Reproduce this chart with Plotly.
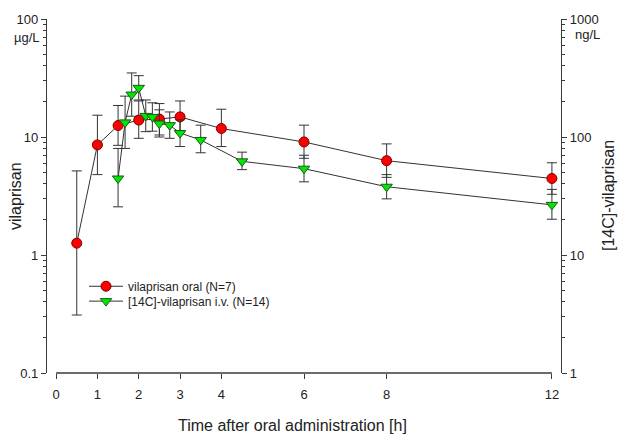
import plotly.graph_objects as go

# Oral vilaprisan (µg/L): time, geometric mean, lower and upper error bounds
oral_t = [0.5, 1, 1.5, 2, 2.5, 3, 4, 6, 8, 12]
oral_v = [1.26, 8.57, 12.5, 13.9, 14.2, 14.8, 11.8, 9.08, 6.3, 4.45]
oral_lo = [0.31, 4.8, 8.5, 9.75, 10.4, 10.9, 8.3, 6.6, 4.55, 3.27]
oral_hi = [5.16, 15.3, 18.5, 20.2, 19.2, 20.2, 17.2, 12.6, 8.74, 6.05]

# [14C]-vilaprisan i.v.
iv_t = [1.5, 1.67, 1.83, 2, 2.17, 2.33, 2.5, 2.75, 3, 3.5, 4.5, 6, 8, 12]
iv_v = [4.45, 13.3, 22.9, 26.1, 15.1, 14.8, 13.0, 12.6, 10.8, 9.44, 6.22, 5.39, 3.79, 2.66]
iv_lo = [2.56, 8.0, 15.0, 20.6, 11.1, 11.2, 10.0, 9.75, 8.3, 7.35, 5.29, 4.17, 2.99, 2.01]
iv_hi = [8.0, 22.2, 34.9, 33.1, 20.6, 19.5, 17.0, 16.3, 14.0, 12.6, 7.44, 7.0, 4.8, 3.6]

x_ticks = [0, 1, 2, 3, 4, 6, 8, 12]
y_ticks = [0.1, 1, 10, 100]
y_ticktext = ["0.1", "1", "10", "100"]
y2_ticks = [1, 10, 100, 1000]
y2_ticktext = ["1", "10", "100", "1000"]

FONT = "Liberation Sans, Arial, sans-serif"
AX = "#3a3a3a"


def minor_vals(lo_exp, hi_exp):
    out = []
    for e in range(lo_exp, hi_exp):
        for m in range(2, 10):
            out.append(round(m * 10 ** e, 6))
    return out


fig = go.Figure()

fig.add_trace(go.Scatter(
    x=oral_t, y=oral_v, mode="lines+markers", name="vilaprisan oral (N=7)",
    legend="legend",
    line=dict(color="#333333", width=1),
    marker=dict(symbol="circle", size=10, color="#ff0000", line=dict(color="#7a0000", width=1)),
    error_y=dict(type="data", symmetric=False,
                 array=[h - v for h, v in zip(oral_hi, oral_v)],
                 arrayminus=[v - l for v, l in zip(oral_v, oral_lo)],
                 color="#333333", thickness=1, width=5),
))

fig.add_trace(go.Scatter(
    x=iv_t, y=iv_v, mode="lines+markers", name="[14C]-vilaprisan i.v. (N=14)",
    legend="legend2",
    line=dict(color="#333333", width=1),
    marker=dict(symbol="triangle-down", size=10, color="#00e600", line=dict(color="#1a5a1a", width=1)),
    error_y=dict(type="data", symmetric=False,
                 array=[h - v for h, v in zip(iv_hi, iv_v)],
                 arrayminus=[v - l for v, l in zip(iv_v, iv_lo)],
                 color="#333333", thickness=1, width=5),
))

# empty trace so that the right-hand axis is drawn
fig.add_trace(go.Scatter(x=[None], y=[None], yaxis="y2", showlegend=False, hoverinfo="skip"))

leg_common = dict(x=0.072, xanchor="left", yanchor="top", bgcolor="rgba(0,0,0,0)",
                  font=dict(size=12, color="#222222"), itemwidth=34)

fig.update_layout(
    width=620, height=435,
    margin=dict(l=47, r=59, t=15, b=62),
    paper_bgcolor="white", plot_bgcolor="white",
    font=dict(family=FONT, size=13, color="#222222"),
    showlegend=True,
    legend=dict(y=0.286, **leg_common),
    legend2=dict(y=0.244, **leg_common),
    xaxis=dict(range=[-0.22, 12.22], tickvals=x_ticks, ticktext=[str(v) for v in x_ticks],
               showline=False, showgrid=False, zeroline=False,
               ticks="outside", ticklen=5, tickwidth=1, tickcolor=AX,
               ticklabelstandoff=4, tickfont=dict(size=13)),
    yaxis=dict(type="log", range=[-1, 2], tickvals=y_ticks, ticktext=y_ticktext,
               showline=True, linecolor=AX, linewidth=1.3, mirror=False,
               showgrid=False, zeroline=False,
               ticks="outside", ticklen=5, tickwidth=1, tickcolor=AX,
               minor=dict(tickvals=minor_vals(-1, 2), ticks="outside", ticklen=3,
                          tickcolor=AX, showgrid=False),
               tickfont=dict(size=13)),
    yaxis2=dict(type="log", range=[0, 3], overlaying="y", side="right",
                tickvals=y2_ticks, ticktext=y2_ticktext,
                showline=True, linecolor=AX, linewidth=1.3,
                showgrid=False, zeroline=False,
                ticks="outside", ticklen=5, tickwidth=1, tickcolor=AX,
                minor=dict(tickvals=minor_vals(0, 3), ticks="outside", ticklen=3,
                           tickcolor=AX, showgrid=False),
                tickfont=dict(size=13)),
)

# x-axis baseline (offset from the y axes, spans 0..12 only)
fig.add_shape(type="line", xref="x", yref="paper", x0=x_ticks[0], x1=x_ticks[-1], y0=0, y1=0,
              line=dict(color=AX, width=1.3))

# units under the top tick labels
fig.add_annotation(text="µg/L", xref="paper", yref="paper", x=0, y=1, xshift=-20, yshift=-18,
                   showarrow=False, xanchor="center", yanchor="middle", font=dict(size=13))
fig.add_annotation(text="ng/L", xref="paper", yref="paper", x=1, y=1, xshift=26, yshift=-15,
                   showarrow=False, xanchor="center", yanchor="middle", font=dict(size=13))

# axis titles
fig.add_annotation(text="vilaprisan", xref="paper", yref="paper", x=0, y=0.5, xshift=-32,
                   showarrow=False, textangle=-90, xanchor="center", yanchor="middle",
                   font=dict(size=16))
fig.add_annotation(text="[14C]-vilaprisan", xref="paper", yref="paper", x=1, y=0.5, xshift=47,
                   showarrow=False, textangle=-90, xanchor="center", yanchor="middle",
                   font=dict(size=16))
fig.add_annotation(text="Time after oral administration [h]", xref="paper", yref="paper",
                   x=0.478, y=0, yshift=-52, showarrow=False, xanchor="center", yanchor="middle",
                   font=dict(size=16))

fig.write_html("out.html", config={"displayModeBar": False},
               post_script="document.body.style.margin='0';document.body.style.overflow='hidden';")
